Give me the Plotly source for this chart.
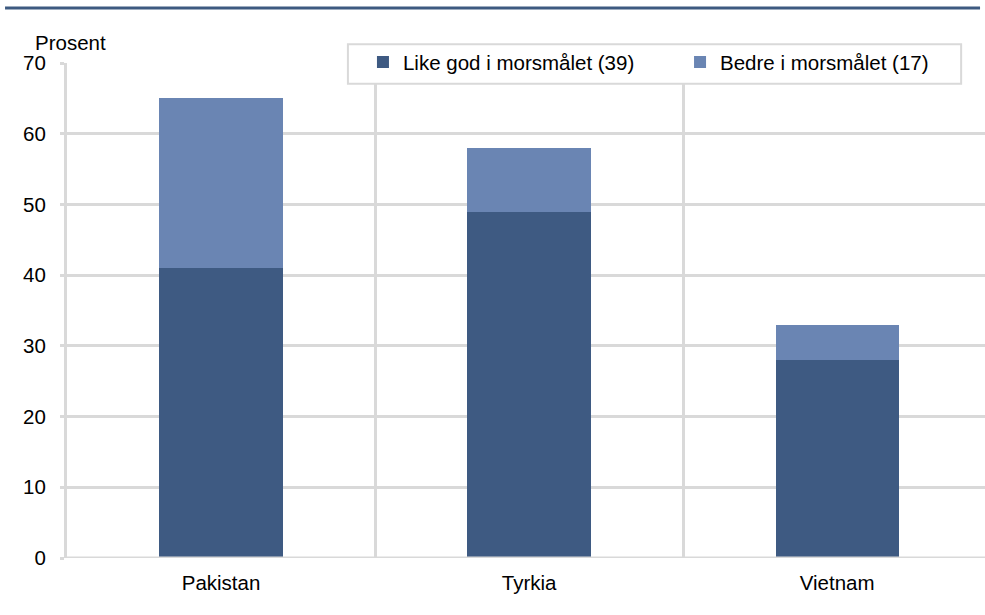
import plotly.graph_objects as go

categories = ["Pakistan", "Tyrkia", "Vietnam"]
like_god = [41, 49, 28]
bedre = [24, 9, 5]
series_names = ["Like god i morsmålet (39)", "Bedre i morsmålet (17)"]
y_ticks = [0, 10, 20, 30, 40, 50, 60, 70]

dark = "#3e5a82"
light = "#6a85b3"
grid = "#d9d9d9"
font = "Liberation Sans, Arial, sans-serif"
fs = 20.5

fig = go.Figure()
fig.add_trace(go.Bar(x=categories, y=like_god, name=series_names[0], marker_color=dark,
                     marker_line_width=0, width=0.4, legend="legend"))
fig.add_trace(go.Bar(x=categories, y=bedre, name=series_names[1], marker_color=light,
                     marker_line_width=0, width=0.4, legend="legend2"))

leg_common = dict(orientation="h", xanchor="left", yanchor="top",
                  bgcolor="rgba(0,0,0,0)", borderwidth=0, font=dict(size=fs))

fig.update_layout(
    barmode="stack",
    width=985, height=615,
    margin=dict(l=67, r=0, t=63, b=57),
    paper_bgcolor="white", plot_bgcolor="white",
    font=dict(family=font, size=fs, color="#000000"),
    showlegend=True,
    legend=dict(x=0.3224, y=1.042, **leg_common),
    legend2=dict(x=0.6678, y=1.042, **leg_common),
    xaxis=dict(range=[-0.5, 2.48], tickson="boundaries", showgrid=True, gridcolor=grid,
               gridwidth=3, ticks="", showline=False, zeroline=False,
               tickfont=dict(size=fs), ticklabelstandoff=10),
    yaxis=dict(range=[0, 70], tickvals=y_ticks, showgrid=True, gridcolor=grid, gridwidth=3,
               showline=True, linecolor=grid, linewidth=3, ticks="outside", ticklen=4,
               tickcolor=grid, tickwidth=3, zeroline=False, tickfont=dict(size=fs),
               ticklabelstandoff=10),
    annotations=[dict(text="Prosent", xref="paper", yref="paper", x=-0.037, y=1.042,
                      xanchor="left", yanchor="middle", showarrow=False,
                      font=dict(size=fs))],
    shapes=[dict(type="line", xref="paper", yref="paper", x0=-0.0675, x1=0.9946,
                 y0=1.111, y1=1.111, line=dict(color="#3d5a80", width=3)),
            dict(type="line", xref="paper", yref="y", x0=0, x1=1, y0=0, y1=0,
                 line=dict(color=grid, width=3), layer="above"),
            dict(type="rect", xref="paper", yref="paper", x0=0.306, x1=0.974,
                 y0=0.958, y1=1.038, fillcolor="white",
                 line=dict(color=grid, width=2), layer="above")],
)

fig.write_html("out.html", config={"displayModeBar": False},
               post_script="document.body.style.margin='0';document.body.style.overflow='hidden';")
